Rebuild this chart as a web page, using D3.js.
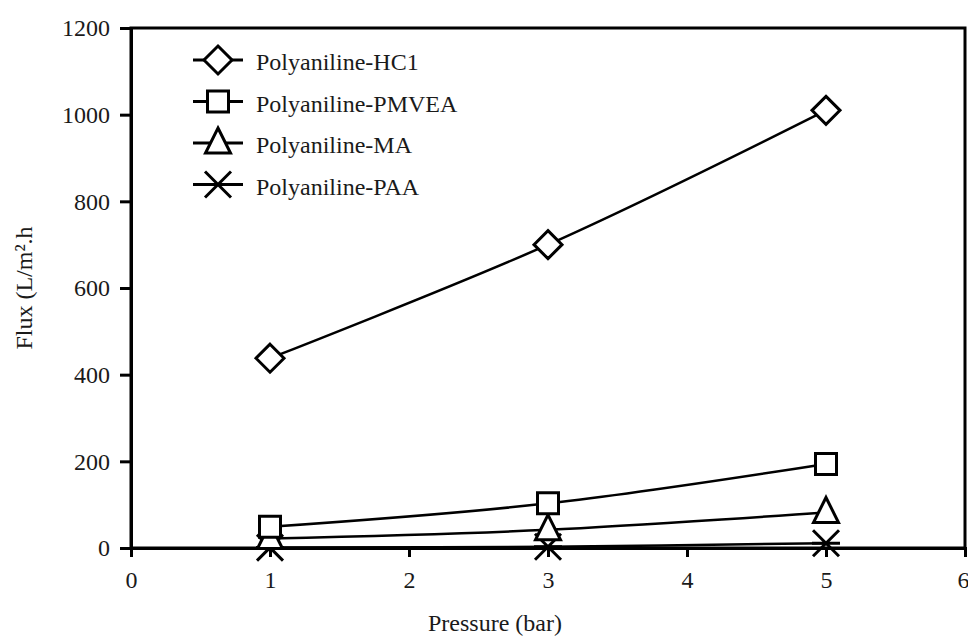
<!DOCTYPE html>
<html>
<head>
<meta charset="utf-8">
<script src="https://cdn.jsdelivr.net/npm/d3@7"></script>
<style>
  body { margin: 0; background: #fff; }
  svg text { font-family: "Liberation Serif", "Times New Roman", serif; fill: #1a1a1a; }
</style>
</head>
<body>
<figure id="chart" style="margin:0"></figure>
<script>
// data
const pressure = [1, 3, 5];
const seriesNames = ["Polyaniline-HC1", "Polyaniline-PMVEA", "Polyaniline-MA", "Polyaniline-PAA"];
const hc1 = [438, 700, 1010];
const pmvea = [49, 103, 194];
const ma = [22, 42, 82];
const paa = [1, 3, 11];
const xTicks = [0, 1, 2, 3, 4, 5, 6];
const yTicks = [0, 200, 400, 600, 800, 1000, 1200];
const markers = ["diamond", "square", "triangle", "cross"];

const W = 968, H = 638;
const plotLeft = 131, plotTop = 28, plotRight = 965, plotBottom = 548;

const svg = d3.select("#chart").append("svg")
  .attr("width", W).attr("height", H);

const x = d3.scaleLinear().domain([0, 6]).range([plotLeft, plotRight]);
const y = d3.scaleLinear().domain([0, 1200]).range([plotBottom, plotTop]);

// frame
svg.append("rect")
  .attr("x", plotLeft).attr("y", plotTop)
  .attr("width", plotRight - plotLeft).attr("height", plotBottom - plotTop)
  .attr("fill", "none").attr("stroke", "#000").attr("stroke-width", 3);

// x axis
const xAxis = svg.append("g")
  .attr("transform", "translate(0," + plotBottom + ")")
  .call(d3.axisBottom(x).tickValues(xTicks).tickSize(9).tickPadding(14).tickFormat(d3.format("d")));
xAxis.select(".domain").attr("stroke-width", 3);
xAxis.selectAll(".tick line").attr("stroke-width", 3);
xAxis.selectAll("text").style("font-size", "24px");
// last label sits on the window edge, pull it in a little
xAxis.selectAll(".tick").filter(d => d === 6).select("text").attr("text-anchor", "end").attr("x", 4);

// y axis
const yAxis = svg.append("g")
  .attr("transform", "translate(" + plotLeft + ",0)")
  .call(d3.axisLeft(y).tickValues(yTicks).tickSize(11).tickPadding(10).tickFormat(d3.format("d")));
yAxis.select(".domain").attr("stroke-width", 3);
yAxis.selectAll(".tick line").attr("stroke-width", 3);
yAxis.selectAll("text").style("font-size", "24px");

// axis titles
svg.append("text")
  .attr("x", 495).attr("y", 631)
  .attr("text-anchor", "middle")
  .style("font-size", "24px")
  .text("Pressure (bar)");

svg.append("text")
  .attr("transform", "translate(32,288) rotate(-90)")
  .attr("text-anchor", "middle")
  .style("font-size", "24px")
  .text("Flux (L/m\u00b2.h");

// marker drawing
function drawMarker(g, type, cx, cy) {
  const s = g.append("path")
    .attr("fill", "#fff")
    .attr("stroke", "#000")
    .attr("stroke-width", 3);
  if (type === "diamond") {
    s.attr("d", `M${cx},${cy - 14}L${cx + 14},${cy}L${cx},${cy + 14}L${cx - 14},${cy}Z`);
  } else if (type === "square") {
    s.attr("d", `M${cx - 10.5},${cy - 10.5}h21v21h-21Z`);
  } else if (type === "triangle") {
    s.attr("d", `M${cx},${cy - 15}L${cx + 12.5},${cy + 10}L${cx - 12.5},${cy + 10}Z`);
  } else {
    s.attr("fill", "none")
      .attr("d", `M${cx - 13},${cy - 13}L${cx + 13},${cy + 13}M${cx + 13},${cy - 13}L${cx - 13},${cy + 13}M${cx - 14},${cy}H${cx + 14}`);
  }
}

const allSeries = [hc1, pmvea, ma, paa];
const line = d3.line()
  .x((d, i) => x(pressure[i]))
  .y(d => y(d))
  .curve(d3.curveCatmullRom.alpha(0.5));

// draw from bottom series up so upper markers stay on top
for (let k = allSeries.length - 1; k >= 0; k--) {
  const g = svg.append("g");
  g.append("path")
    .datum(allSeries[k])
    .attr("d", line)
    .attr("fill", "none")
    .attr("stroke", "#000")
    .attr("stroke-width", 2.5);
  allSeries[k].forEach((v, i) => drawMarker(g, markers[k], x(pressure[i]), y(v)));
}

// legend
const legend = svg.append("g");
seriesNames.forEach((name, k) => {
  const ly = 60 + k * 41.5;
  legend.append("line")
    .attr("x1", 193).attr("x2", 243)
    .attr("y1", ly).attr("y2", ly)
    .attr("stroke", "#000").attr("stroke-width", 3);
  drawMarker(legend, markers[k], 218, ly);
  legend.append("text")
    .attr("x", 256).attr("y", ly + 10)
    .style("font-size", "24px")
    .text(name);
});
</script>
</body>
</html>
